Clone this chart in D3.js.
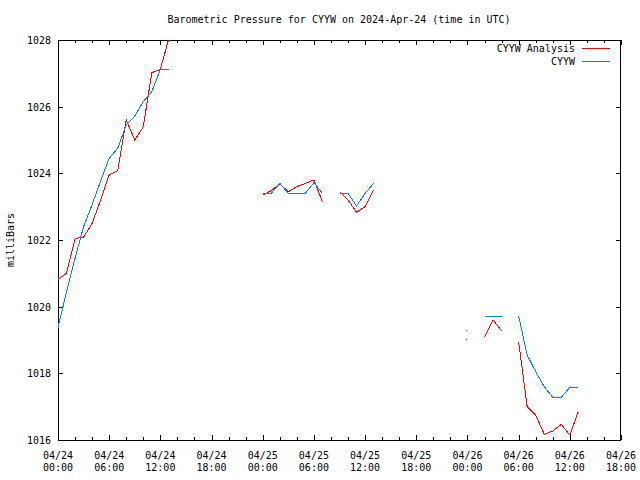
<!DOCTYPE html>
<html><head><meta charset="utf-8">
<script src="https://cdn.jsdelivr.net/npm/d3@7"></script>
<style>
html,body{margin:0;padding:0;background:#fff;}
text{font-family:"DejaVu Sans Mono",monospace;font-size:10px;fill:#000;}
</style></head>
<body>
<svg id="chart" width="640" height="480"></svg>
<script>
const title = "Barometric Pressure for CYYW on 2024-Apr-24 (time in UTC)";
const yLabel = "milliBars";
const startTime = "2024-04-24T00:00:00Z";
const endTime = "2024-04-26T18:00:00Z";
const yTicks = [1016, 1018, 1020, 1022, 1024, 1026, 1028];
// hourly observations, hour offset from start
const hours = d3.range(0, 62);
const analysisValues = [
  1020.82, 1021.0, 1022.05, 1022.08, 1022.5, 1023.2, 1023.95, 1024.08, 1025.6, 1025.0,
  1025.4, 1027.02, 1027.12, 1028.05, null, null, null, null, null, null,
  null, null, null, null, 1023.35, 1023.48, 1023.68, 1023.45, 1023.6, 1023.7,
  1023.8, 1023.15, null, 1023.45, 1023.2, 1022.83, 1023.0, 1023.5, null, null,
  null, null, null, null, null, null, null, null, 1019.02, null,
  1019.08, 1019.6, 1019.28, null, 1018.95, 1017.0, 1016.75, 1016.17, 1016.27, 1016.47,
  1016.15, 1016.85
];
const stationValues = [
  1019.37, 1020.45, 1021.45, 1022.4, 1023.06, 1023.77, 1024.45, 1024.75, 1025.45, 1025.72,
  1026.15, 1026.45, 1027.12, 1027.12, null, null, null, null, null, null,
  null, null, null, null, 1023.4, 1023.4, 1023.7, 1023.4, 1023.4, 1023.4,
  1023.72, 1023.4, null, 1023.4, 1023.4, 1023.02, 1023.4, 1023.7, null, null,
  null, null, null, null, null, null, null, null, 1019.29, null,
  1019.72, 1019.72, 1019.72, null, 1019.72, 1018.55, 1018.05, 1017.6, 1017.28, 1017.28,
  1017.58, 1017.58
];
const seriesNames = ["CYYW Analysis", "CYYW"];
const seriesColors = ["#ff0000", "#0080ff"];

const svg = d3.select("#chart");
const L = 58, R = 621, T = 40, B = 440;
const t0 = new Date(startTime), t1 = new Date(endTime);
const x = d3.scaleUtc().domain([t0, t1]).range([L, R]);
const y = d3.scaleLinear().domain([1016, 1028]).range([B, T]);

const toDate = h => new Date(t0.getTime() + h * 3600e3);

svg.append("defs").append("clipPath").attr("id", "clip")
  .append("rect").attr("x", L).attr("y", T).attr("width", R - L).attr("height", B - T);

svg.append("rect").attr("x", L + 0.5).attr("y", T + 0.5).attr("width", R - L - 1).attr("height", B - T)
  .attr("fill", "none").attr("stroke", "#000").attr("stroke-width", 1).attr("shape-rendering", "crispEdges");

const majorX = d3.utcHour.every(6).range(t0, new Date(t1.getTime() + 1));
const minorX = d3.utcHour.every(2).range(t0, new Date(t1.getTime() + 1));

const tickG = svg.append("g").attr("stroke", "#000").attr("shape-rendering", "crispEdges");
minorX.forEach(d => {
  const isMajor = d.getUTCHours() % 6 === 0;
  const len = isMajor ? 5 : 3;
  const xx = Math.round(x(d)) + 0.5;
  tickG.append("line").attr("x1", xx).attr("x2", xx).attr("y1", B).attr("y2", B - len);
  tickG.append("line").attr("x1", xx).attr("x2", xx).attr("y1", T).attr("y2", T + len);
});
yTicks.forEach(v => {
  const yy = Math.round(y(v)) + 0.5;
  tickG.append("line").attr("x1", L).attr("x2", L + 5).attr("y1", yy).attr("y2", yy);
  tickG.append("line").attr("x1", R).attr("x2", R - 5).attr("y1", yy).attr("y2", yy);
});

const fmtDay = d3.utcFormat("%m/%d"), fmtTime = d3.utcFormat("%H:%M");
majorX.forEach(d => {
  const t = svg.append("text").attr("x", x(d)).attr("text-anchor", "middle");
  t.append("tspan").attr("x", x(d)).attr("y", 459).text(fmtDay(d));
  t.append("tspan").attr("x", x(d)).attr("y", 471).text(fmtTime(d));
});
yTicks.forEach(v => {
  svg.append("text").attr("x", 51).attr("y", y(v) + 4).attr("text-anchor", "end").text(v);
});
svg.append("text").attr("transform", "translate(14,240) rotate(-90)").attr("text-anchor", "middle").text(yLabel);
svg.append("text").attr("x", 339).attr("y", 23).attr("text-anchor", "middle").text(title);

const allSeries = [analysisValues, stationValues];
const plotG = svg.append("g").attr("clip-path", "url(#clip)");
allSeries.forEach((vals, i) => {
  const pts = hours.map((h, k) => ({ t: toDate(h), v: vals[k] }));
  const line = d3.line().defined(d => d.v != null).x(d => x(d.t)).y(d => y(d.v));
  plotG.append("path").datum(pts).attr("d", line).attr("fill", "none")
    .attr("stroke", seriesColors[i]).attr("stroke-width", 1).attr("shape-rendering", "crispEdges");
  pts.forEach((d, k) => {
    if (d.v == null) return;
    const prev = k > 0 ? pts[k - 1].v : null, next = k < pts.length - 1 ? pts[k + 1].v : null;
    if (prev == null && next == null) {
      plotG.append("rect").attr("x", Math.round(x(d.t)) - 1).attr("y", Math.round(y(d.v)))
        .attr("width", 1).attr("height", 1).attr("fill", seriesColors[i]);
    }
  });
});

seriesNames.forEach((name, i) => {
  const ly = 48 + i * 13;
  svg.append("text").attr("x", 575).attr("y", ly + 4).attr("text-anchor", "end").text(name);
  svg.append("line").attr("x1", 582).attr("x2", 610).attr("y1", ly + 0.5).attr("y2", ly + 0.5)
    .attr("stroke", seriesColors[i]).attr("stroke-width", 1).attr("shape-rendering", "crispEdges");
});
</script>
</body></html>
